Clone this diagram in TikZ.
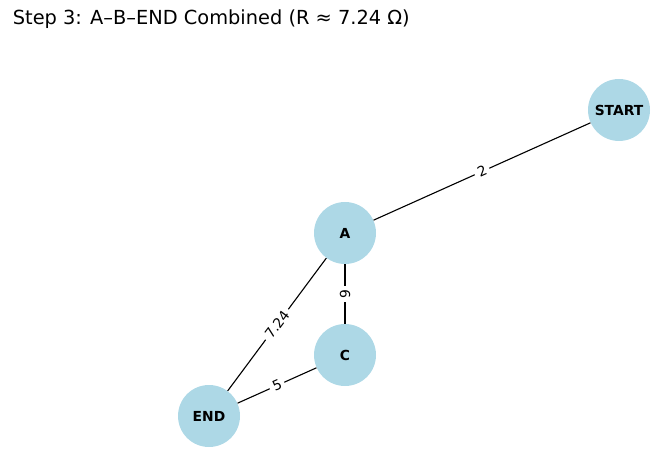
\documentclass[tikz,border=0pt]{standalone}
\usepackage{fontspec}
\setmainfont{DejaVu Sans}
\usepackage{tikz}
\usetikzlibrary{positioning}

\definecolor{nodeblue}{HTML}{ADD8E6}

\tikzset{
  vertex/.style={circle, fill=nodeblue, minimum size=62\unitlength, inner sep=0pt, font=\fontsize{10}{12}\selectfont\bfseries},
  wire/.style={line width=0.8pt, black},
  weight/.style={midway, sloped, fill=white, inner sep=2.5pt, font=\fontsize{10}{12}\selectfont}
}
\setlength{\unitlength}{0.254mm}

\begin{document}
\begin{tikzpicture}[x=0.254mm, y=-0.254mm]
\useasboundingbox (0,0) rectangle (671,458);

\node [anchor=west] (title) at (8,19) {\fontsize{14}{16}\selectfont Step 3: A–B–END Combined (R ≈ 7.24 Ω)};

\node [vertex] (start) at (619,110) {START};
\node [vertex] (a) at (345,233) {A};
\node [vertex] (c) at (345,355) {C};
\node [vertex] (end) at (209,416) {END};

\draw [wire] (a) -- node [weight] {2} (start);
\draw [wire] (c) -- node [weight] {9} (a);
\draw [wire] (end) -- node [weight] {7.24} (a);
\draw [wire] (end) -- node [weight] {5} (c);
\end{tikzpicture}
\end{document}
